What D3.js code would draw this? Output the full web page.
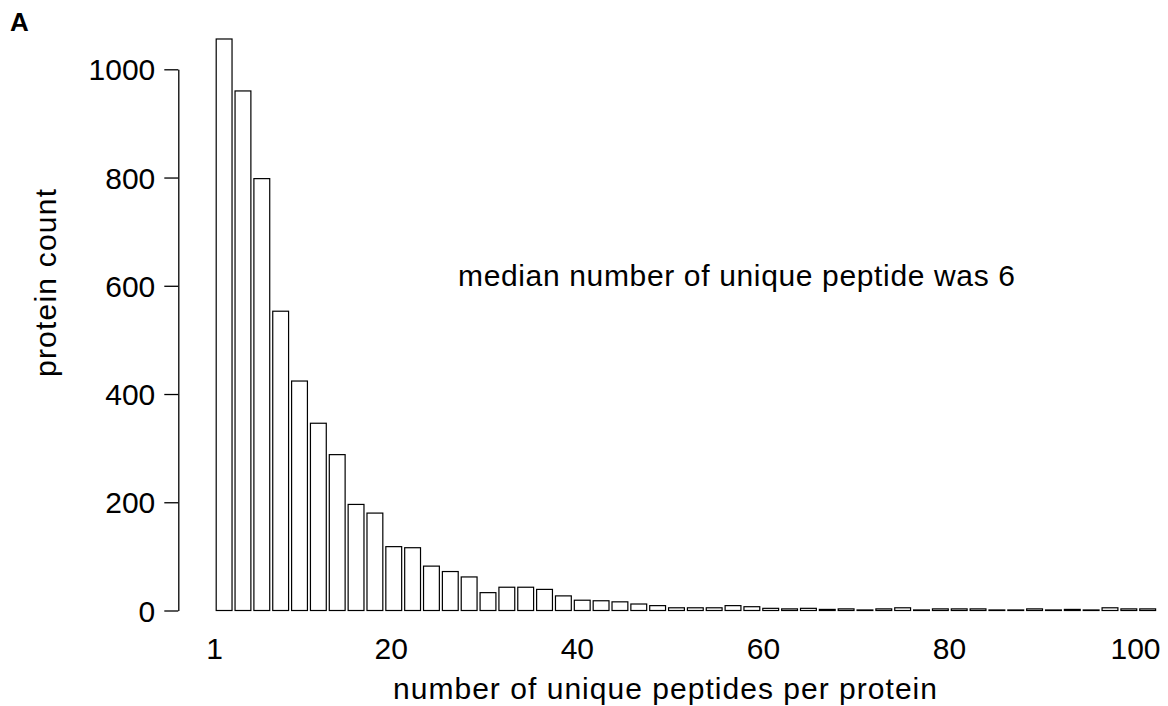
<!DOCTYPE html>
<html>
<head>
<meta charset="utf-8">
<script src="https://cdn.jsdelivr.net/npm/d3@7"></script>
<style>
  html, body { margin: 0; padding: 0; background: #fff; }
  text { font-family: "Liberation Sans", Arial, Helvetica, sans-serif; fill: #000; }
</style>
</head>
<body>
<svg id="chart" width="1168" height="706"></svg>
<script>
// Data: protein count per bin of unique peptides (bins of 2)
const binIndex = d3.range(50);
const proteinCounts = [
  1056, 960, 798, 553, 424, 346, 288, 196, 180, 118,
  116, 82, 72, 62, 33, 43, 43, 39, 27, 19,
  18, 16, 12, 9, 5, 5, 5, 9, 7, 4,
  3, 4, 2, 3, 1, 3, 5, 1, 3, 3,
  3, 1, 1, 3, 1, 2, 1, 5, 3, 3
];
const yTicks = [0, 200, 400, 600, 800, 1000];
const xTicks = [1, 20, 40, 60, 80, 100];
const xTitle = "number of unique peptides per protein";
const yTitle = "protein count";
const note = "median number of unique peptide was 6";
const panel = "A";

const svg = d3.select("#chart");
const FS = 30;

const y = d3.scaleLinear().domain([0, 1000]).range([610.5, 69.3]);
const xb = d3.scaleBand().domain(binIndex).range([216.2, 1155.6]).paddingInner(0.16).paddingOuter(0);
const xt = d3.scaleLinear().domain([1, 100]).range([214, 1135]);

// bars
svg.append("g").selectAll("rect")
  .data(proteinCounts)
  .join("rect")
  .attr("x", (d, i) => xb(i))
  .attr("width", xb.bandwidth())
  .attr("y", d => y(d))
  .attr("height", d => y(0) - y(d))
  .attr("fill", "#fff")
  .attr("stroke", "#000")
  .attr("stroke-width", 1.2);

// y axis
const yAxis = d3.axisLeft(y).tickValues(yTicks).tickFormat(d3.format("d"))
  .tickSize(14).tickPadding(9).tickSizeOuter(0);
const gy = svg.append("g").attr("transform", "translate(178.3,0)").call(yAxis);
gy.select(".domain").attr("stroke", "#000").attr("stroke-width", 1.3);
gy.selectAll(".tick line").attr("stroke", "#000").attr("stroke-width", 1.3);
gy.selectAll(".tick text").attr("font-size", FS).attr("font-family", null).attr("fill", "#000").attr("dy", "0.35em");

// x tick labels (no axis line)
const xAxis = d3.axisBottom(xt).tickValues(xTicks).tickFormat(d3.format("d")).tickSize(0).tickPadding(0);
const gx = svg.append("g").attr("transform", "translate(0,659)").call(xAxis);
gx.select(".domain").remove();
gx.selectAll(".tick text").attr("font-size", FS).attr("font-family", null).attr("fill", "#000").attr("dy", 0).attr("y", 0);

// titles
svg.append("text").attr("x", 665).attr("y", 699).attr("text-anchor", "middle")
  .attr("font-size", FS).attr("textLength", 544).attr("lengthAdjust", "spacing").text(xTitle);
svg.append("text").attr("transform", "translate(56,283) rotate(-90)").attr("text-anchor", "middle")
  .attr("font-size", FS).attr("textLength", 188).attr("lengthAdjust", "spacing").text(yTitle);
svg.append("text").attr("x", 458).attr("y", 286).attr("font-size", FS)
  .attr("textLength", 557).attr("lengthAdjust", "spacing").text(note);
svg.append("text").attr("x", 10).attr("y", 31).attr("font-size", 26).attr("font-weight", "bold").text(panel);
</script>
</body>
</html>
